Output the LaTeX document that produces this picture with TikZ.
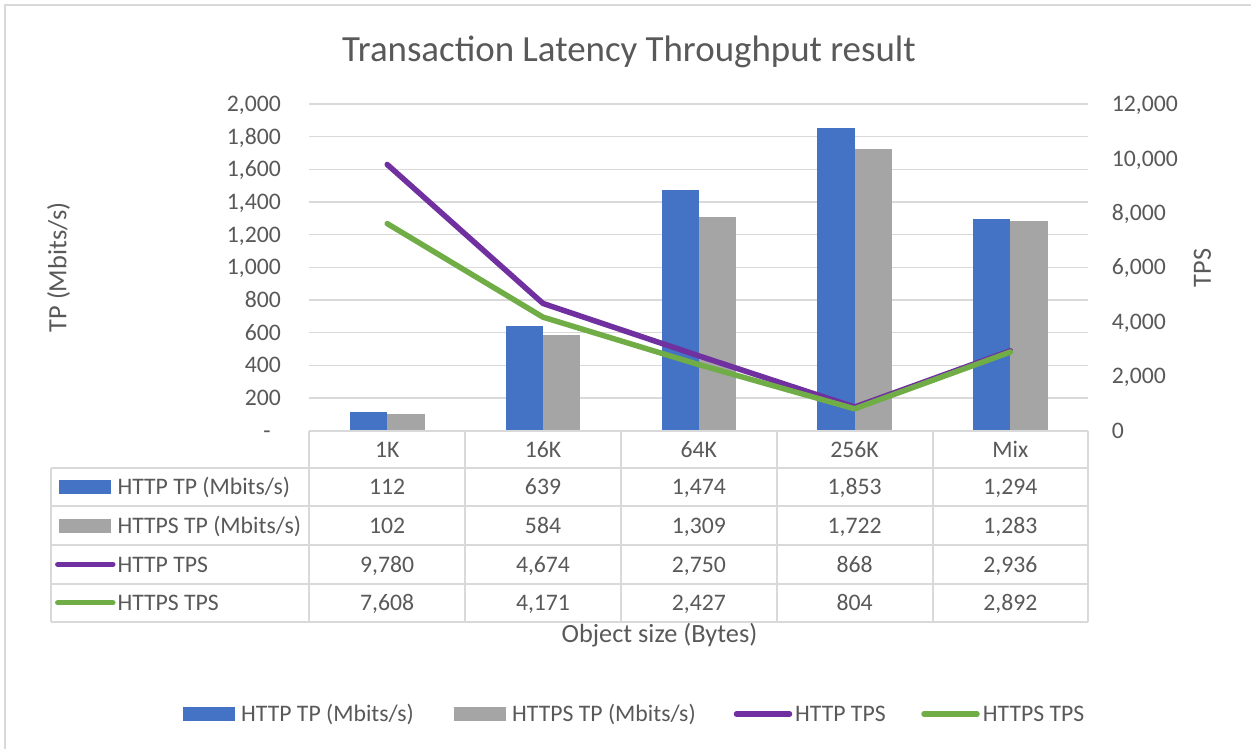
\documentclass[tikz,border=0pt]{standalone}
\usepackage{fontspec}
\setmainfont{Carlito}
\definecolor{txt}{HTML}{595959}
\definecolor{gridc}{HTML}{D9D9D9}
\definecolor{cblue}{HTML}{4472C4}
\definecolor{cgray}{HTML}{A5A5A5}
\definecolor{cpurple}{HTML}{7030A0}
\definecolor{cgreen}{HTML}{70AD47}
\begin{document}
\begin{tikzpicture}[x=1pt,y=-1pt,
  lbl/.style={inner sep=0pt, text=txt, font=\fontsize{23.7}{28}\selectfont,
    text height=15.2pt, text depth=0pt},
  axttl/.style={inner sep=0pt, text=txt, font=\fontsize{26.3}{31}\selectfont,
    text height=16.9pt, text depth=0pt},
  ttl/.style={inner sep=0pt, text=txt, font=\fontsize{36.9}{44}\selectfont,
    text height=23.8pt, text depth=0pt},
  gridln/.style={draw=gridc, line width=1.4pt},
  tabln/.style={draw=gridc, line width=2pt},
  serline/.style={line width=5.5pt, line cap=round, line join=round},
  keyline/.style={line width=5.5pt, line cap=round},
]
\useasboundingbox (0,0) rectangle (1251,749);
\fill[white] (0,0) rectangle (1251,749);
% chart area frame
\draw[draw=gridc, line width=1.4pt] (5,749) -- (5,5) -- (1251,5);

% title
\node[ttl] (title) at (629,49.2) {Transaction Latency Throughput result};

% horizontal gridlines (primary axis, every 200)
\foreach \k in {1,...,10}
  \draw[gridln] (309.3,{430.7-\k*32.67}) -- (1088.3,{430.7-\k*32.67});

% primary axis tick labels
\node[lbl] (tl0) at (267,430.7) {-};
\foreach \t [count=\k from 1] in {200,400,600,800,{1,000},{1,200},{1,400},{1,600},{1,800},{2,000}}
  \node[lbl, anchor=east] (tl\k) at (281,{430.7-\k*32.67}) {\t};

% secondary axis tick labels
\foreach \t [count=\k from 0] in {0,{2,000},{4,000},{6,000},{8,000},{10,000},{12,000}}
  \node[lbl, anchor=west] (tr\k) at (1111.7,{430.7-\k*54.45}) {\t};

% axis titles
\node[axttl, rotate=90] (ytitle) at (58,267.5) {TP (Mbits/s)};
\node[axttl, rotate=90] (y2title) at (1202.5,268) {TPS};
\node[axttl] (xtitle) at (659.5,634) {Object size (Bytes)};

% bars and line-series points
\foreach \a/\b/\c/\d [count=\i from 0] in
    {112/102/9780/7608, 639/584/4674/4171, 1474/1309/2750/2427,
     1853/1722/868/804, 1294/1283/2936/2892}{
  \pgfmathsetmacro\cx{309.3+155.8*(\i+0.5)}
  \fill[cblue] ({\cx-37.3},{430.7-\a*0.16335}) rectangle (\cx,430.7);
  \fill[cgray] (\cx,{430.7-\b*0.16335}) rectangle ({\cx+37.3},430.7);
  \coordinate (h\i) at (\cx,{430.7-\c*0.027225});
  \coordinate (s\i) at (\cx,{430.7-\d*0.027225});
}

% data table grid
\foreach \k in {0,...,5}
  \draw[tabln] ({309.3+155.8*\k},431) -- ({309.3+155.8*\k},621.7);
\draw[tabln] (309.3,431) -- (1088.3,431);
\draw[tabln] (51.3,468.3) -- (51.3,621.7);
\foreach \yy in {468.3,506.3,545,583.7,621.7}
  \draw[tabln] (51.3,\yy) -- (1088.3,\yy);

% line series
\draw[serline, cpurple] (h0) -- (h1) -- (h2) -- (h3) -- (h4);
\draw[serline, cgreen] (s0) -- (s1) -- (s2) -- (s3) -- (s4);

% table: category header
\foreach \t [count=\i from 0] in {1K,16K,64K,256K,Mix}
  \node[lbl] (hd\i) at ({309.3+155.8*(\i+0.5)},449.7) {\t};

% table: row keys and names
\fill[cblue] (59,480.3) rectangle (111,494.3);
\fill[cgray] (59,518.7) rectangle (111,532.7);
\draw[keyline, cpurple] (57.8,564.4) -- (112.8,564.4);
\draw[keyline, cgreen] (57.8,602.7) -- (112.8,602.7);
\node[lbl, anchor=west] (r1) at (117.3,487.3) {HTTP TP (Mbits/s)};
\node[lbl, anchor=west] (r2) at (117.3,525.7) {HTTPS TP (Mbits/s)};
\node[lbl, anchor=west] (r3) at (117.3,564.4) {HTTP TPS};
\node[lbl, anchor=west] (r4) at (117.3,602.7) {HTTPS TPS};

% table: values
\foreach \v [count=\i from 0] in {112,639,{1,474},{1,853},{1,294}}
  \node[lbl] (va\i) at ({309.3+155.8*(\i+0.5)},487.3) {\v};
\foreach \v [count=\i from 0] in {102,584,{1,309},{1,722},{1,283}}
  \node[lbl] (vb\i) at ({309.3+155.8*(\i+0.5)},525.7) {\v};
\foreach \v [count=\i from 0] in {{9,780},{4,674},{2,750},868,{2,936}}
  \node[lbl] (vc\i) at ({309.3+155.8*(\i+0.5)},564.4) {\v};
\foreach \v [count=\i from 0] in {{7,608},{4,171},{2,427},804,{2,892}}
  \node[lbl] (vd\i) at ({309.3+155.8*(\i+0.5)},602.7) {\v};

% legend
\fill[cblue] (182.7,707.3) rectangle (235,720.7);
\node[lbl, anchor=west] (lg1) at (241,714) {HTTP TP (Mbits/s)};
\fill[cgray] (454,707.3) rectangle (506.3,720.7);
\node[lbl, anchor=west] (lg2) at (512,714) {HTTPS TP (Mbits/s)};
\draw[keyline, cpurple] (736.5,714) -- (789.5,714);
\node[lbl, anchor=west] (lg3) at (795,714) {HTTP TPS};
\draw[keyline, cgreen] (924,714) -- (977,714);
\node[lbl, anchor=west] (lg4) at (982.7,714) {HTTPS TPS};
\end{tikzpicture}
\end{document}
